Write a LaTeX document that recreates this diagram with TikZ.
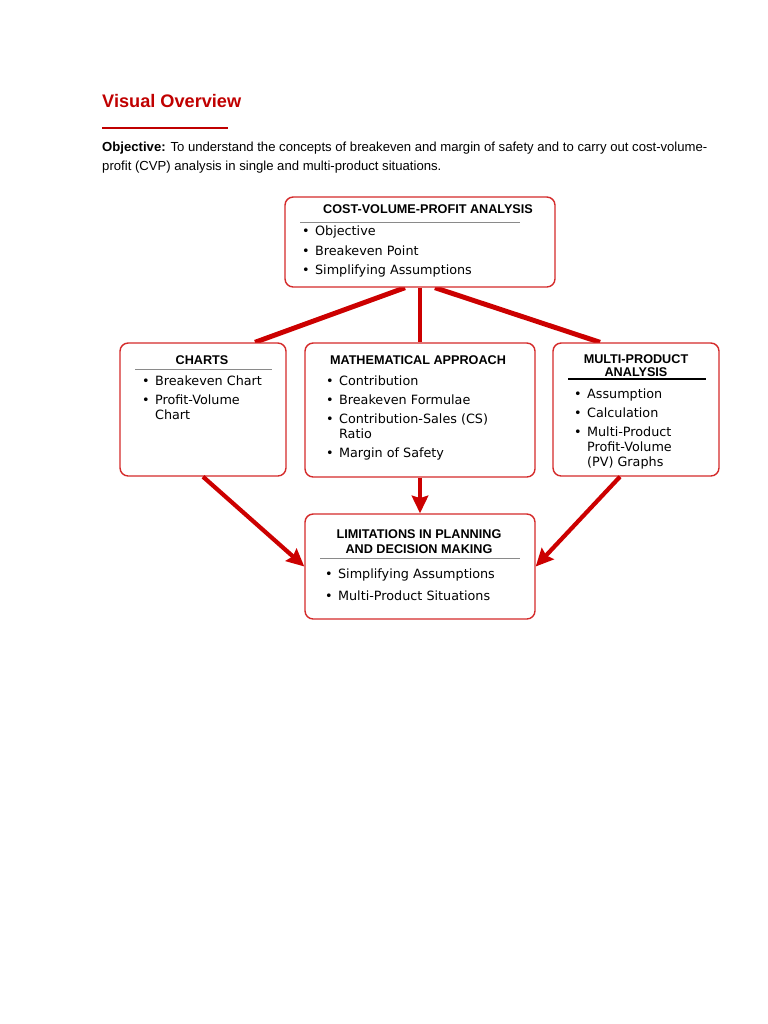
\documentclass[tikz,border=0pt]{standalone}
\usepackage{fontspec}
\setmainfont{Liberation Sans}
\newfontfamily\itemfont{DejaVu Sans}
\usetikzlibrary{arrows.meta,calc,backgrounds}

\definecolor{headred}{HTML}{C00000}
\definecolor{boxred}{HTML}{D42A2A}
\definecolor{linkred}{HTML}{CC0000}
\definecolor{rulegrey}{HTML}{8A8A8A}

% bullet and hanging indent for the lists
\newcommand{\bul}{\makebox[11pt][l]{\textbullet}}
\newcommand{\cont}{\hspace*{11pt}}

\tikzset{
    box/.style={draw=boxred, line width=1.2pt, rounded corners=7pt, fill=white, inner sep=0pt},
    boxtitle/.style={font=\fontsize{10.8}{11.1}\selectfont\bfseries, align=center, inner sep=0pt},
    itemlist/.style={font=\itemfont\fontsize{10.9}{12.8}\selectfont, align=left, anchor=north west, inner sep=0pt},
    link/.style={draw=linkred, line width=4.2pt},
    arrowlink/.style={draw=linkred, line width=3.6pt, -{Stealth[length=15pt,width=14pt,inset=2pt]}}
}

\begin{document}
\begin{tikzpicture}[x=0.03cm, y=-0.03cm]

    % page frame
    \useasboundingbox (0,0) rectangle (768,1024);

    % heading and objective
    \node[anchor=base west, inner sep=0pt, text=headred, font=\fontsize{15.5}{18}\selectfont\bfseries] (heading) at (102,107) {Visual Overview};
    \draw[headred, line width=1.4pt] (102,128) -- (228,128);
    % base of a two-line node is its last line
    \node[anchor=base west, inner sep=0pt, align=left, font=\fontsize{11.2}{16.2}\selectfont] (objective) at (102,170)
        {\textbf{Objective:} To understand the concepts of breakeven and margin of safety and to carry out cost-volume-\\
         profit (CVP) analysis in single and multi-product situations.};

    % the five boxes
    \node[box, minimum width=8.1cm, minimum height=2.7cm] (cvp) at (420,242) {};
    \node[box, minimum width=4.98cm, minimum height=3.99cm] (charts) at (203,409.5) {};
    \node[box, minimum width=6.9cm, minimum height=4.02cm] (math) at (420,410) {};
    \node[box, minimum width=4.98cm, minimum height=3.99cm] (multi) at (636,409.5) {};
    \node[box, minimum width=6.9cm, minimum height=3.15cm] (limits) at (420,566.5) {};

    % connectors behind the boxes
    \begin{scope}[on background layer]
        \draw[link] ($(cvp.south)+(-15,0)$) -- ($(charts.north)+(52,0)$);
        \draw[link] (cvp.south) -- (math.north);
        \draw[link] ($(cvp.south)+(15,0)$) -- ($(multi.north)+(-36,0)$);
    \end{scope}
    \draw[arrowlink] (charts.south) -- (limits.west);
    \draw[arrowlink] (math.south) -- (limits.north);
    \draw[arrowlink] ($(multi.south)+(-16,0)$) -- (limits.east);

    % top box
    \node[boxtitle] (cvptitle) at (428,209) {COST-VOLUME-PROFIT ANALYSIS};
    \draw[rulegrey, line width=0.8pt] (300,222) -- (520,222);
    \node[itemlist] (cvplist) at (302,226)
        {\bul Objective\\[4pt]
         \bul Breakeven Point\\[3pt]
         \bul Simplifying Assumptions};

    % charts box
    \node[boxtitle] (chartstitle) at (202,360) {CHARTS};
    \draw[rulegrey, line width=0.8pt] (135,369) -- (272,369);
    \node[itemlist] (chartslist) at (142,376)
        {\bul Breakeven Chart\\[3.4pt]
         \bul Profit-Volume\\
         \cont Chart};

    % mathematical approach box
    \node[boxtitle] (mathtitle) at (418,360) {MATHEMATICAL APPROACH};
    \node[itemlist] (mathlist) at (326,376)
        {\bul Contribution\\[3.4pt]
         \bul Breakeven Formulae\\[3.4pt]
         \bul Contribution-Sales (CS)\\
         \cont Ratio\\[3.4pt]
         \bul Margin of Safety};

    % multi-product box
    \node[boxtitle] (multititle) at (636,365.5) {MULTI-PRODUCT\\ANALYSIS};
    \draw[black, line width=1pt] (568,379) -- (706,379);
    \node[itemlist] (multilist) at (574,389)
        {\bul Assumption\\[3.4pt]
         \bul Calculation\\[3.4pt]
         \bul Multi-Product\\
         \cont Profit-Volume\\
         \cont (PV) Graphs};

    % limitations box
    \node[boxtitle, font=\fontsize{10.8}{12.8}\selectfont\bfseries] (limitstitle) at (419,541.5) {LIMITATIONS IN PLANNING\\AND DECISION MAKING};
    \draw[rulegrey, line width=0.8pt] (320,558) -- (520,558);
    \node[itemlist] (limitslist) at (325,569)
        {\bul Simplifying Assumptions\\[6pt]
         \bul Multi-Product Situations};

\end{tikzpicture}
\end{document}
